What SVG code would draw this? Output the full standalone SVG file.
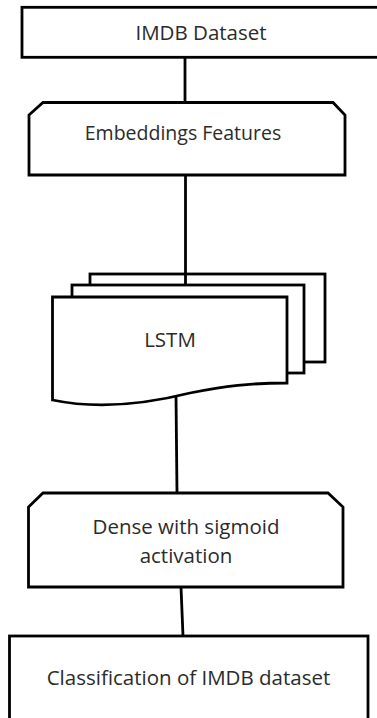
<svg xmlns="http://www.w3.org/2000/svg" width="377" height="718" viewBox="0 0 377 718">
<style>
.s{fill:#fff;stroke:#000;stroke-width:2.8;stroke-linejoin:miter}
.c{fill:none;stroke:#000;stroke-width:2.8}
.t{font-family:"Open Sans",sans-serif;font-size:20.5px;fill:#2b2b2b;text-anchor:middle}
</style>
<rect width="377" height="718" fill="#fff"/>
<g id="connectors">
<line class="c" x1="185" y1="57" x2="185" y2="102"/>
<line class="c" x1="185.5" y1="175" x2="185.5" y2="285"/>
<line class="c" x1="176" y1="396" x2="177" y2="493"/>
<line class="c" x1="181" y1="587" x2="183" y2="636"/>
</g>
<g id="imdb-dataset">
<rect class="s" x="22" y="7.3" width="370" height="50"/>
<text class="t" x="201" y="39.5">IMDB Dataset</text>
</g>
<g id="embeddings">
<path class="s" d="M29,115 L43,102.5 L333,102.5 L345,115 L345,175 L29,175 Z"/>
<text class="t" x="183" y="140" style="font-size:19.5px">Embeddings Features</text>
</g>
<g id="lstm">
<rect class="s" x="90" y="274" width="235" height="88"/>
<line class="c" x1="185.5" y1="274" x2="185.5" y2="285"/>
<rect class="s" x="72" y="285" width="232" height="88"/>
<path class="s" d="M52.5,297 L287,297 L287,383 C250,383 225,386 190,393 C150,403 100,410 52.5,400 Z"/>
<text class="t" x="170" y="347">LSTM</text>
</g>
<g id="dense">
<path class="s" d="M28.5,507 L43,493 L328,493 L343,507 L343,587 L28.5,587 Z"/>
<text class="t" x="186" y="534">Dense with sigmoid</text>
<text class="t" x="186" y="563">activation</text>
</g>
<g id="classification">
<rect class="s" x="9.5" y="636" width="358.5" height="100"/>
<text class="t" x="188.5" y="685">Classification of IMDB dataset</text>
</g>
</svg>
